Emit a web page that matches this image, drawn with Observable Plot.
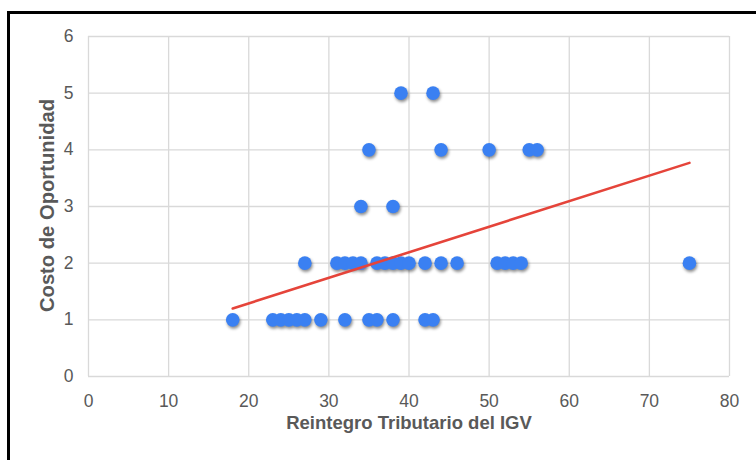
<!DOCTYPE html>
<html>
<head>
<meta charset="utf-8">
<script src="https://cdn.jsdelivr.net/npm/d3@7"></script>
<script src="https://cdn.jsdelivr.net/npm/@observablehq/plot@0.6"></script>
<style>
  html, body { margin: 0; padding: 0; background: #fff; }
  #wrap { position: relative; width: 756px; height: 460px; overflow: hidden; }
  #frame { position: absolute; left: 7px; top: 11px; width: 800px; height: 520px;
           border-left: 3px solid #000; border-top: 3px solid #000; box-sizing: border-box; pointer-events: none; }
  .dots { filter: drop-shadow(1px 2px 1.5px rgba(0,0,0,0.45)); }
</style>
</head>
<body>
<div id="wrap"><div id="frame"></div></div>
<script>
// Reintegro Tributario del IGV (x) vs Costo de Oportunidad (y)
const xValues = [
  18, 23, 24, 25, 26, 27, 29, 32, 35, 36, 38, 42, 43,
  27, 31, 32, 33, 34, 36, 37, 38, 39, 40, 42, 44, 46, 51, 52, 53, 54, 75,
  34, 38,
  35, 44, 50, 55, 56,
  39, 43
];
const yValues = [
  1, 1, 1, 1, 1, 1, 1, 1, 1, 1, 1, 1, 1,
  2, 2, 2, 2, 2, 2, 2, 2, 2, 2, 2, 2, 2, 2, 2, 2, 2, 2,
  3, 3,
  4, 4, 4, 4, 4,
  5, 5
];
// Linear trend line as drawn in the reference
const trendX = [18, 75];
const trendY = [1.2, 3.77];

const xTicks = [0, 10, 20, 30, 40, 50, 60, 70, 80];
const yTicks = [0, 1, 2, 3, 4, 5, 6];
const xTitle = "Reintegro Tributario del IGV";
const yTitle = "Costo de Oportunidad";

const points = xValues.map((x, i) => ({x, y: yValues[i]}));
const trend = trendX.map((x, i) => ({x, y: trendY[i]}));

const chart = Plot.plot({
  width: 756,
  height: 460,
  marginLeft: 88,
  marginRight: 27,
  marginTop: 36,
  marginBottom: 84,
  style: { fontFamily: "'Liberation Sans', Arial, sans-serif", fontSize: "17.5px", background: "transparent" },
  x: { domain: [0, 80] },
  y: { domain: [0, 6] },
  marks: [
    Plot.gridX(xTicks, { stroke: "#d9d9d9", strokeOpacity: 1, strokeWidth: 1.3 }),
    Plot.gridY(yTicks, { stroke: "#d9d9d9", strokeOpacity: 1, strokeWidth: 1.3 }),
    Plot.axisX(xTicks, { tickSize: 0, tickPadding: 18, tickFormat: "d", fontSize: 17.5, fill: "#595959", label: null }),
    Plot.axisY(yTicks, { tickSize: 0, tickPadding: 15, tickFormat: "d", fontSize: 17.5, fill: "#595959", label: null }),
    Plot.dot(points, { x: "x", y: "y", r: 6.8, fill: "#3a80f2", stroke: "none", className: "dots" }),
    Plot.line(trend, { x: "x", y: "y", stroke: "#e5443a", strokeWidth: 2.6 }),
    Plot.text([xTitle], { frameAnchor: "bottom", dy: 52, fontSize: 18.5, fontWeight: "bold", fill: "#595959" }),
    Plot.text([yTitle], { frameAnchor: "left", textAnchor: "middle", dx: -41, dy: -1, rotate: -90, fontSize: 20.2, fontWeight: "bold", fill: "#595959" })
  ]
});
document.getElementById("wrap").prepend(chart);
</script>
</body>
</html>
